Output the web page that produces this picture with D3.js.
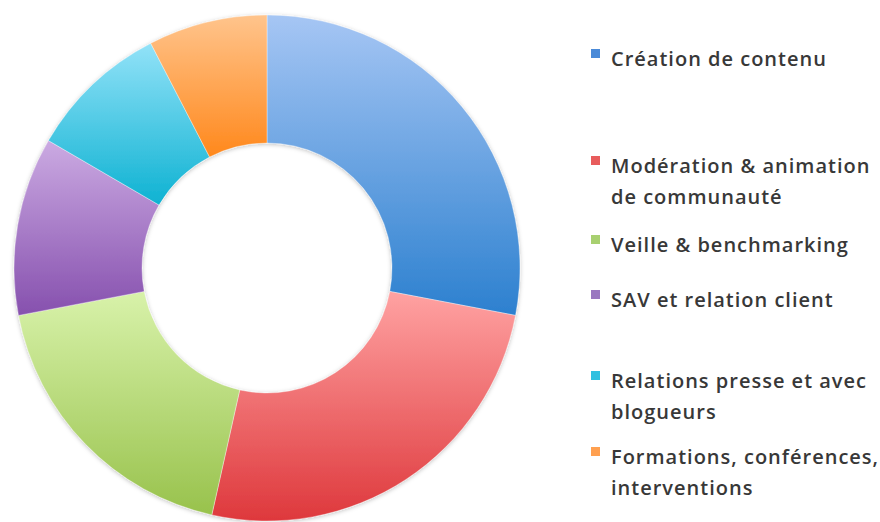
<!DOCTYPE html>
<html>
<head>
<meta charset="utf-8">
<script src="https://cdn.jsdelivr.net/npm/d3@7"></script>
<style>
  body { margin: 0; background: #fff; }
  svg { display: block; }
  .legendText { font-family: "Open Sans", sans-serif; font-size: 20px; font-weight: 600; letter-spacing: 1px; fill: #383838; }
</style>
</head>
<body>
<script>
// categories (legend labels, line breaks as in the original)
var categories = [
    "Création de contenu",
    "Modération & animation\nde communauté",
    "Veille & benchmarking",
    "SAV et relation client",
    "Relations presse et avec\nblogueurs",
    "Formations, conférences,\ninterventions"
];

// share of each activity (%)
var values = [28, 25.5, 18.5, 11.4, 9, 7.6];

// gradient top / bottom colours + legend swatch
var topColors = ["#a6c6f4", "#ffa2a2", "#d8f2aa", "#cbaae2", "#92e2f8", "#ffc48c"];
var bottomColors = ["#2c80cf", "#de383c", "#98c24c", "#8650ae", "#0eb2d2", "#ff881c"];
var swatchColors = ["#4a8ad8", "#e85c5c", "#a8d070", "#9a78c0", "#30c0e0", "#ffa050"];

var width = 880;
var height = 522;
var cx = 267, cy = 268;
var outerRadius = 253;
var innerRadius = 125;

// legend layout (y of first line for each entry)
var legendX = 590;
var legendRowY = [59, 166, 245, 300, 381, 457];
var lineHeight = 31;

var svg = d3.select("body").append("svg")
    .attr("width", width)
    .attr("height", height);

var defs = svg.append("defs");

var shadow = defs.append("filter")
    .attr("id", "shadow")
    .attr("x", "-10%").attr("y", "-10%")
    .attr("width", "120%").attr("height", "120%");
shadow.append("feDropShadow")
    .attr("dx", 0).attr("dy", 1)
    .attr("stdDeviation", 2)
    .attr("flood-color", "#000")
    .attr("flood-opacity", 0.25);

//one vertical gradient per slice
categories.forEach(function(c, i){
    var g = defs.append("linearGradient")
        .attr("id", "grad" + i)
        .attr("x1", 0).attr("y1", 0)
        .attr("x2", 0).attr("y2", 1);
    g.append("stop").attr("offset", "0%").attr("stop-color", topColors[i]);
    g.append("stop").attr("offset", "100%").attr("stop-color", bottomColors[i]);
});

var pie = d3.pie().sort(null).value(function(d){ return d; });
var arc = d3.arc().innerRadius(innerRadius).outerRadius(outerRadius);

var donut = svg.append("g")
    .attr("transform", "translate(" + cx + "," + cy + ")")
    .attr("filter", "url(#shadow)");

donut.selectAll(".slice")
    .data(pie(values))
    .enter()
    .append("path")
    .attr("class", "slice")
    .attr("d", arc)
    .style("fill", function(d, i){ return "url(#grad" + i + ")"; })
    .style("stroke", "#fff")
    .style("stroke-width", 0.6)
    .style("stroke-opacity", 0.6);

//legend
var legend = svg.append("g").attr("class", "legend");

var items = legend.selectAll(".legendItem")
    .data(categories)
    .enter()
    .append("g")
    .attr("class", "legendItem")
    .attr("transform", function(d, i){ return "translate(" + legendX + "," + legendRowY[i] + ")"; });

items.append("rect")
    .attr("x", 1)
    .attr("y", -10)
    .attr("width", 9)
    .attr("height", 9)
    .style("fill", function(d, i){ return swatchColors[i]; });

items.append("text")
    .attr("class", "legendText")
    .attr("x", 21)
    .attr("y", 0)
    .each(function(d){
        var t = d3.select(this);
        d.split("\n").forEach(function(line, k){
            t.append("tspan")
                .attr("x", 21)
                .attr("y", k * lineHeight)
                .attr("dy", "0.35em")
                .text(line);
        });
    });
</script>
</body>
</html>
